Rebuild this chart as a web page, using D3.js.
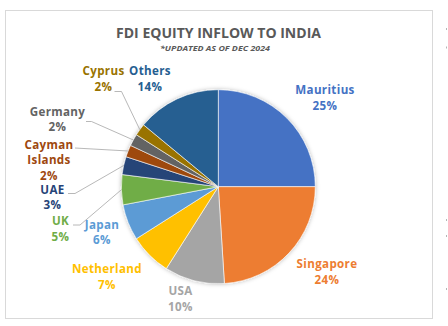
<!DOCTYPE html>
<html>
<head>
<meta charset="utf-8">
<script src="https://cdn.jsdelivr.net/npm/d3@7"></script>
<style>
  html, body { margin: 0; padding: 0; background: #fff; }
  svg { display: block; }
  text { font-family: "Open Sans", "DejaVu Sans", sans-serif; font-weight: 700; }
</style>
</head>
<body>
<svg id="chart" width="448" height="326"></svg>
<script>
// FDI equity inflow shares by source country (percent)
const countries = ["Mauritius", "Singapore", "USA", "Netherland", "Japan", "UK", "UAE", "Cayman Islands", "Germany", "Cyprus", "Others"];
const shares    = [25, 24, 10, 7, 6, 5, 3, 2, 2, 2, 14];
const colors    = ["#4472C4", "#ED7D31", "#A5A5A5", "#FFC000", "#5B9BD5", "#70AD47", "#264478", "#9E480E", "#636363", "#997300", "#255E91"];

// label placement: name lines, centre point of the first line, optional leader start
const labelLayout = {
  "Mauritius":      { lines: ["Mauritius"], x: 325, y: 90 },
  "Singapore":      { lines: ["Singapore"], x: 327, y: 264 },
  "USA":            { lines: ["USA"], x: 180.5, y: 291 },
  "Netherland":     { lines: ["Netherland"], x: 107, y: 269 },
  "Japan":          { lines: ["Japan"], x: 102, y: 224.5 },
  "UK":             { lines: ["UK"], x: 60.5, y: 221, leader: [73, 225, 80] },
  "UAE":            { lines: ["UAE"], x: 52.5, y: 189.5, leader: [68, 193.5, 75] },
  "Cayman Islands": { lines: ["Cayman", "Islands"], x: 49, y: 144.5, leader: [75, 148, 75] },
  "Germany":        { lines: ["Germany"], x: 57.5, y: 111.5, leader: [86, 121.5, 91.5] },
  "Cyprus":         { lines: ["Cyprus"], x: 103.5, y: 71, leader: [114.5, 91.5, 121.5] },
  "Others":         { lines: ["Others"], x: 150, y: 71 }
};

const W = 448, H = 326;
const cx = 218.3, cy = 186.7, R = 97;
const lineH = 15.7;

const svg = d3.select("#chart");

// drop shadow for the pie
const defs = svg.append("defs");
const f = defs.append("filter").attr("id", "pieShadow")
  .attr("x", "-20%").attr("y", "-20%").attr("width", "140%").attr("height", "140%");
f.append("feDropShadow").attr("dx", 0).attr("dy", 0).attr("stdDeviation", 2)
  .attr("flood-color", "#000").attr("flood-opacity", 0.28);

// chart frame
svg.append("rect").attr("x", 5.5).attr("y", 10.5).attr("width", 427).attr("height", 308)
  .attr("fill", "#fff").attr("stroke", "#d9d9d9").attr("stroke-width", 1);

// stray marks at the right edge
[28, 46.5, 219, 235, 288].forEach(y => {
  svg.append("rect").attr("x", 446).attr("y", y).attr("width", 1).attr("height", 2).attr("fill", "#b5b5b5");
});

// titles, stretched to their set widths
svg.append("text").attr("x", 218.5).attr("y", 37.8).attr("text-anchor", "middle")
  .attr("font-size", 13.6).attr("fill", "#595959")
  .attr("textLength", 205).attr("lengthAdjust", "spacingAndGlyphs")
  .text("FDI EQUITY INFLOW TO INDIA");
svg.append("text").attr("x", 215).attr("y", 51).attr("text-anchor", "middle")
  .attr("font-size", 7.6).attr("font-style", "italic").attr("fill", "#595959")
  .attr("textLength", 110).attr("lengthAdjust", "spacingAndGlyphs")
  .text("*UPDATED AS OF DEC 2024");

const data = countries.map((c, i) => ({ name: c, value: shares[i], color: colors[i] }));
const pie = d3.pie().value(d => d.value).sort(null);
const arcs = pie(data);
const arc = d3.arc().innerRadius(0).outerRadius(R);

const g = svg.append("g").attr("transform", `translate(${cx},${cy})`);
g.append("g").attr("filter", "url(#pieShadow)")
  .selectAll("path").data(arcs).join("path")
  .attr("d", arc)
  .attr("fill", d => d.data.color)
  .attr("stroke", "#fff").attr("stroke-width", 0.6);

// leader lines
arcs.forEach(a => {
  const L = labelLayout[a.data.name];
  if (!L.leader) return;
  const mid = (a.startAngle + a.endAngle) / 2;
  const ex = cx + R * Math.sin(mid), ey = cy - R * Math.cos(mid);
  const [sx, sy, kx] = L.leader;
  svg.append("polyline")
    .attr("points", `${sx},${sy} ${kx},${sy} ${ex},${ey}`)
    .attr("fill", "none").attr("stroke", "#a6a6a6").attr("stroke-width", 0.8);
});

// data labels
arcs.forEach(a => {
  const L = labelLayout[a.data.name];
  const t = svg.append("text").attr("text-anchor", "middle")
    .attr("font-size", 11.6).attr("letter-spacing", 0.35).attr("fill", a.data.color);
  const rows = L.lines.concat([a.data.value + "%"]);
  rows.forEach((r, i) => {
    t.append("tspan").attr("x", L.x).attr("y", L.y + i * lineH)
      .attr("dy", "0.36em").text(r);
  });
});
</script>
</body>
</html>
